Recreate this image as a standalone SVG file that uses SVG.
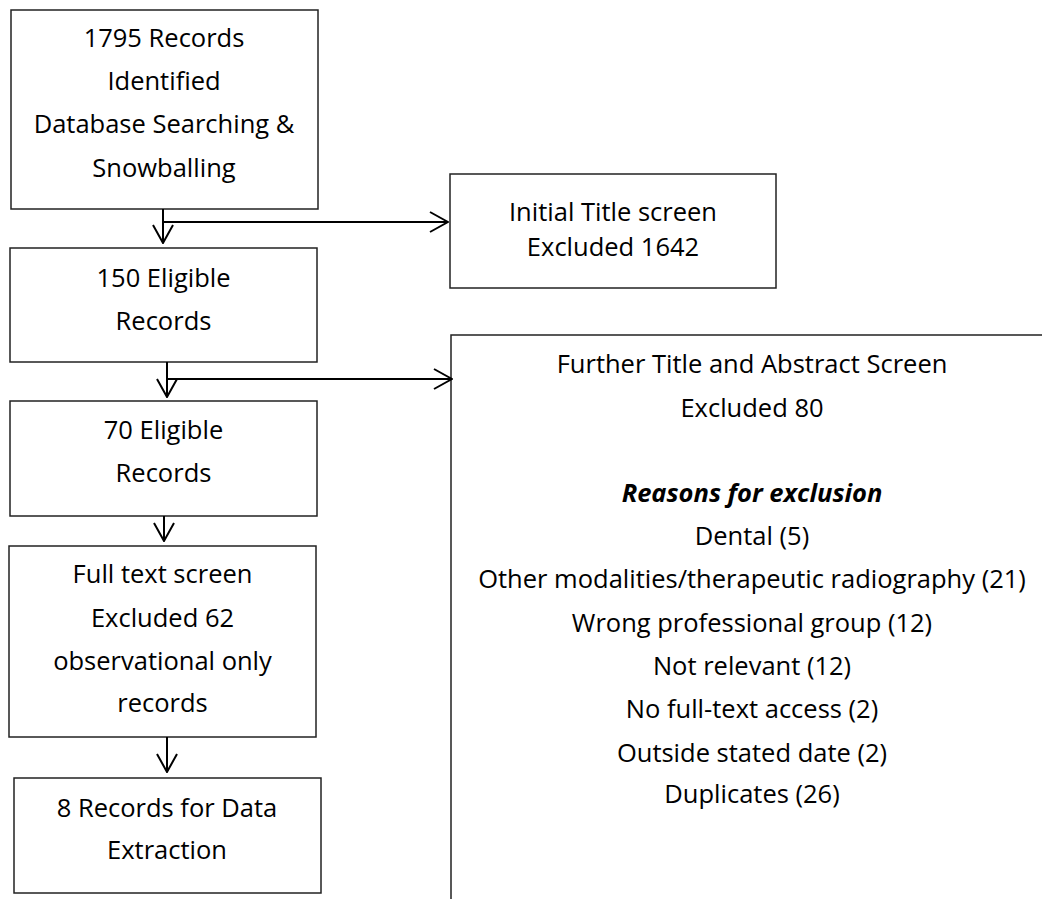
<svg xmlns="http://www.w3.org/2000/svg" width="1042" height="899" viewBox="0 0 1042 899">
<style>
  .box { fill: #fff; stroke: #222; stroke-width: 1.5; }
  .t { font-family: "Open Sans", "Liberation Sans", sans-serif; font-size: 25.5px; fill: #000; text-anchor: middle; }
  .bi { font-weight: bold; font-style: italic; }
  .conn { fill: none; stroke: #000; stroke-width: 2; }
</style>
<defs>
  <marker id="chev" viewBox="0 0 20 22" refX="19" refY="11" markerWidth="20" markerHeight="22" markerUnits="userSpaceOnUse" orient="auto">
    <path d="M1,1 L19,11 L1,21" fill="none" stroke="#000" stroke-width="2"/>
  </marker>
</defs>
<rect width="1042" height="899" fill="#fff"/>

<g id="n1">
  <rect class="box" x="11" y="10" width="307" height="199"/>
  <text class="t" x="164" y="47">1795 Records</text>
  <text class="t" x="164" y="90">Identified</text>
  <text class="t" x="164" y="133">Database Searching &amp;</text>
  <text class="t" x="164" y="177">Snowballing</text>
</g>
<g id="n2">
  <rect class="box" x="10" y="248" width="307" height="114"/>
  <text class="t" x="163.5" y="287">150 Eligible</text>
  <text class="t" x="163.5" y="330">Records</text>
</g>
<g id="n3">
  <rect class="box" x="10" y="401" width="307" height="115"/>
  <text class="t" x="163.5" y="439">70 Eligible</text>
  <text class="t" x="163.5" y="482">Records</text>
</g>
<g id="n4">
  <rect class="box" x="9" y="546" width="307" height="191"/>
  <text class="t" x="162.5" y="583">Full text screen</text>
  <text class="t" x="162.5" y="627">Excluded 62</text>
  <text class="t" x="162.5" y="670">observational only</text>
  <text class="t" x="162.5" y="712">records</text>
</g>
<g id="n5">
  <rect class="box" x="14" y="778" width="307" height="115"/>
  <text class="t" x="167" y="817">8 Records for Data</text>
  <text class="t" x="167" y="859">Extraction</text>
</g>
<g id="n6">
  <rect class="box" x="450" y="174" width="326" height="114"/>
  <text class="t" x="613" y="221">Initial Title screen</text>
  <text class="t" x="613" y="256">Excluded 1642</text>
</g>
<g id="n7">
  <rect class="box" x="451" y="335" width="700" height="700"/>
  <text class="t" x="752" y="373">Further Title and Abstract Screen</text>
  <text class="t" x="752" y="417">Excluded 80</text>
  <text class="t bi" x="752" y="502">Reasons for exclusion</text>
  <text class="t" x="752" y="545">Dental (5)</text>
  <text class="t" x="752" y="588">Other modalities/therapeutic radiography (21)</text>
  <text class="t" x="752" y="632">Wrong professional group (12)</text>
  <text class="t" x="752" y="675">Not relevant (12)</text>
  <text class="t" x="752" y="718">No full-text access (2)</text>
  <text class="t" x="752" y="762">Outside stated date (2)</text>
  <text class="t" x="752" y="803">Duplicates (26)</text>
</g>

<g id="connectors">
  <path class="conn" d="M163,209 V243" marker-end="url(#chev)"/>
  <path class="conn" d="M163,222 H448" marker-end="url(#chev)"/>
  <path class="conn" d="M167,362 V397" marker-end="url(#chev)"/>
  <path class="conn" d="M167,379 H452" marker-end="url(#chev)"/>
  <path class="conn" d="M164,516 V541" marker-end="url(#chev)"/>
  <path class="conn" d="M167,737 V772" marker-end="url(#chev)"/>
</g>
</svg>
